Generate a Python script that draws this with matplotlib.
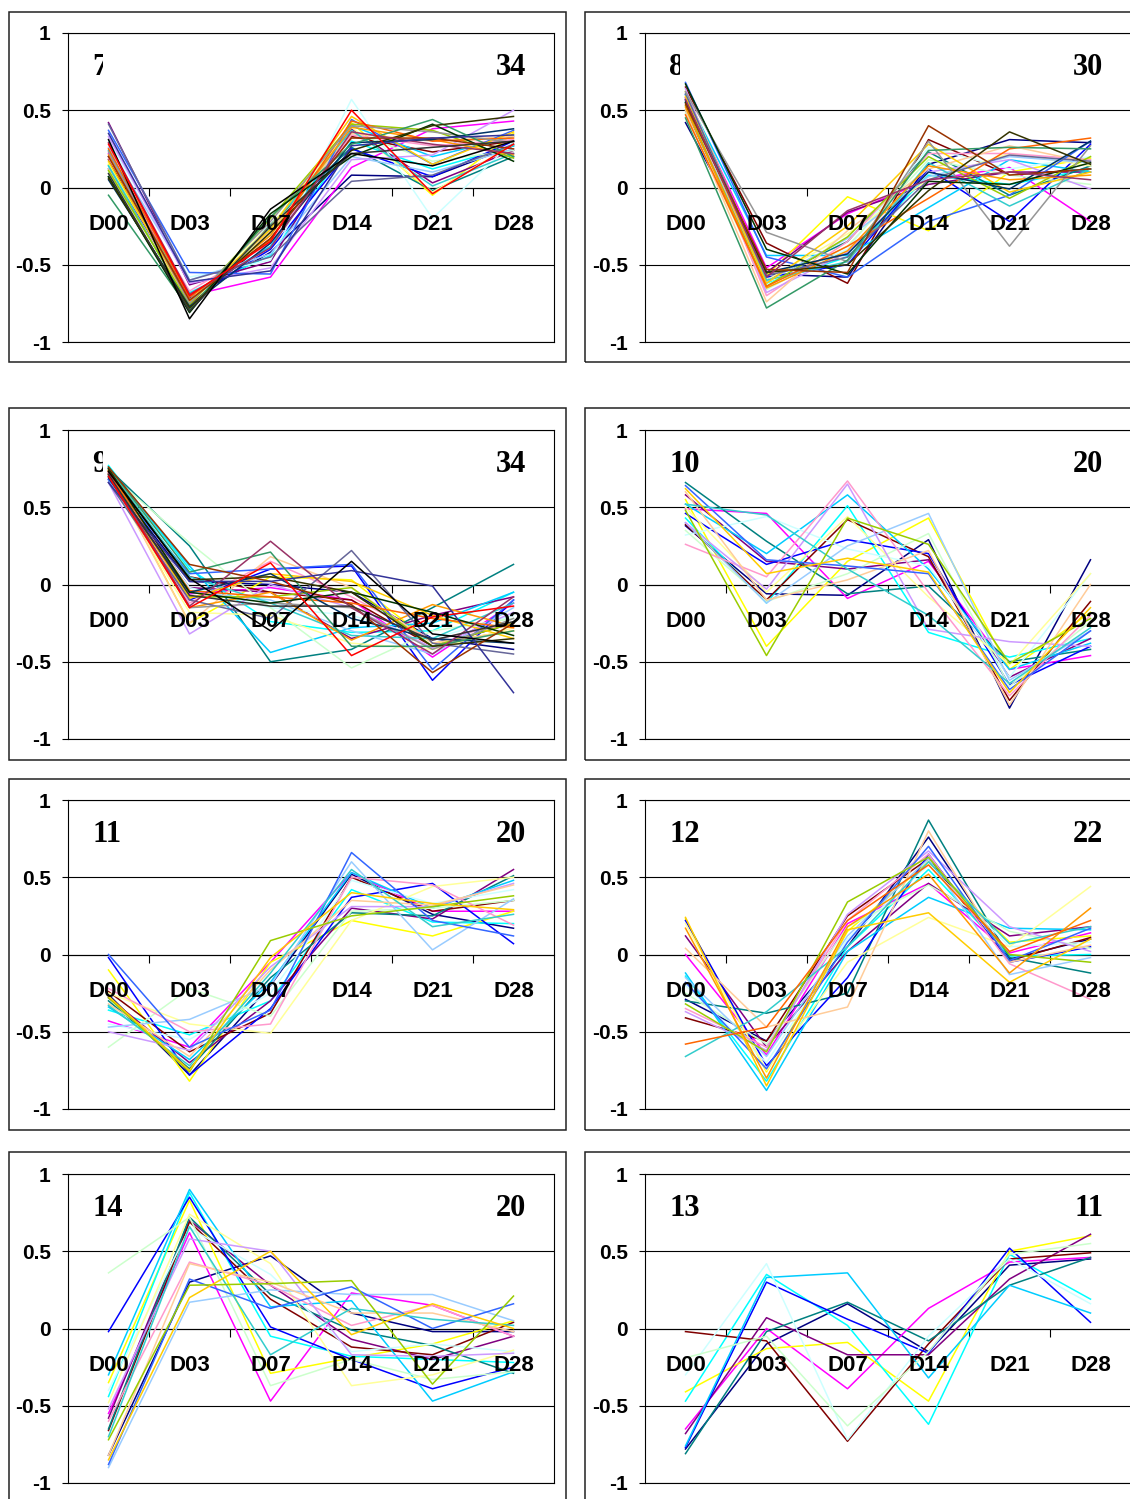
import matplotlib
matplotlib.use('Agg')
import matplotlib.pyplot as plt
from matplotlib.patches import Rectangle
from matplotlib.transforms import Bbox, TransformedBbox

days = ['D00', 'D03', 'D07', 'D14', 'D21', 'D28']

# Excel 2003 default series colours, in order
excel_colors = ['#000080', '#FF00FF', '#FFFF00', '#00FFFF', '#800080', '#800000', '#008080', '#0000FF',
                '#00CCFF', '#CCFFFF', '#CCFFCC', '#FFFF99', '#99CCFF', '#FF99CC', '#CC99FF', '#FFCC99',
                '#3366FF', '#33CCCC', '#99CC00', '#FFCC00', '#FF9900', '#FF6600', '#666699', '#969696',
                '#003366', '#339966', '#003300', '#333300', '#993300', '#993366', '#333399', '#333333',
                '#000000', '#FF0000']

cluster7 = [
    [0.20, -0.72, -0.42, 0.08, 0.07, 0.27], [0.22, -0.70, -0.58, 0.13, 0.38, 0.43],
    [0.15, -0.74, -0.30, 0.42, -0.05, 0.35], [0.14, -0.68, -0.44, 0.30, 0.12, 0.27],
    [0.42, -0.63, -0.48, 0.38, 0.03, 0.24], [0.18, -0.76, -0.33, 0.33, 0.23, 0.30],
    [0.07, -0.80, -0.24, 0.26, -0.02, 0.20], [0.12, -0.72, -0.40, 0.25, 0.07, 0.30],
    [0.24, -0.70, -0.38, 0.40, 0.20, 0.33], [0.30, -0.58, -0.47, 0.57, -0.20, 0.30],
    [0.10, -0.75, -0.30, 0.36, 0.17, 0.24], [0.16, -0.73, -0.25, 0.39, -0.03, 0.28],
    [0.26, -0.60, -0.43, 0.20, 0.10, 0.25], [0.19, -0.67, -0.36, 0.34, 0.27, 0.31],
    [0.33, -0.62, -0.52, 0.18, 0.21, 0.50], [0.12, -0.74, -0.28, 0.35, 0.30, 0.33],
    [0.37, -0.55, -0.56, 0.44, 0.15, 0.37], [0.14, -0.78, -0.26, 0.37, 0.01, 0.22],
    [0.11, -0.76, -0.20, 0.41, 0.37, 0.19], [0.17, -0.74, -0.27, 0.46, 0.15, 0.36],
    [0.21, -0.73, -0.31, 0.39, 0.31, 0.21], [0.25, -0.71, -0.34, 0.43, 0.30, 0.32],
    [0.41, -0.60, -0.45, 0.04, 0.08, 0.28], [0.23, -0.75, -0.22, 0.40, 0.36, 0.29],
    [0.05, -0.77, -0.36, 0.29, 0.31, 0.38], [-0.05, -0.79, -0.19, 0.28, 0.44, 0.20],
    [0.07, -0.81, -0.17, 0.20, 0.41, 0.17], [0.06, -0.78, -0.29, 0.24, 0.40, 0.46],
    [0.20, -0.73, -0.33, 0.32, 0.32, 0.25], [0.29, -0.69, -0.39, 0.36, 0.28, 0.22],
    [0.35, -0.61, -0.54, 0.27, 0.32, 0.34], [0.09, -0.80, -0.25, 0.22, 0.26, 0.30],
    [0.31, -0.85, -0.14, 0.22, 0.14, 0.30], [0.28, -0.70, -0.35, 0.50, -0.04, 0.28],
]

cluster8 = [
    [0.42, -0.56, -0.58, 0.15, 0.31, 0.29], [0.60, -0.52, -0.17, 0.05, 0.13, -0.22],
    [0.62, -0.57, -0.06, -0.28, 0.10, 0.19], [0.55, -0.62, -0.45, 0.08, 0.02, 0.12],
    [0.58, -0.55, -0.16, 0.02, 0.10, 0.10], [0.65, -0.36, -0.62, 0.31, 0.08, 0.12],
    [0.50, -0.60, -0.35, 0.23, -0.05, 0.14], [0.57, -0.58, -0.50, 0.12, -0.22, 0.28],
    [0.60, -0.44, -0.44, -0.13, 0.18, 0.10], [0.52, -0.63, -0.40, 0.26, 0.12, 0.20],
    [0.48, -0.66, -0.38, 0.18, 0.08, 0.02], [0.63, -0.60, -0.30, 0.05, 0.22, 0.14],
    [0.55, -0.61, -0.33, 0.07, 0.20, 0.16], [0.58, -0.70, -0.35, 0.22, 0.22, 0.18],
    [0.64, -0.68, -0.42, 0.10, 0.18, -0.01], [0.50, -0.74, -0.28, 0.12, 0.27, 0.16],
    [0.68, -0.45, -0.58, -0.22, -0.05, 0.30], [0.60, -0.60, -0.48, 0.16, -0.12, 0.12],
    [0.53, -0.64, -0.32, 0.20, -0.07, 0.20], [0.59, -0.62, -0.25, 0.28, -0.03, 0.10],
    [0.52, -0.65, -0.41, 0.14, 0.05, 0.08], [0.47, -0.64, -0.38, -0.07, 0.25, 0.32],
    [0.61, -0.57, -0.45, 0.05, 0.21, 0.17], [0.62, -0.29, -0.48, 0.30, -0.38, 0.27],
    [0.56, -0.55, -0.43, 0.10, -0.01, 0.30], [0.45, -0.78, -0.47, 0.24, 0.26, 0.25],
    [0.67, -0.40, -0.56, 0.04, 0.02, 0.16], [0.55, -0.55, -0.50, -0.02, 0.36, 0.15],
    [0.54, -0.53, -0.55, 0.40, 0.08, 0.12], [0.57, -0.58, -0.15, 0.05, 0.10, 0.05],
]

cluster9 = [
    [0.70, 0.02, 0.00, -0.05, -0.35, -0.42], [0.72, -0.06, -0.02, -0.10, -0.47, -0.12],
    [0.74, -0.25, 0.05, 0.03, -0.38, -0.30], [0.77, 0.10, -0.24, -0.31, -0.30, -0.05],
    [0.71, -0.02, -0.05, -0.35, -0.20, -0.08], [0.73, 0.05, -0.05, -0.10, -0.40, -0.25],
    [0.75, 0.25, -0.50, -0.42, -0.15, 0.13], [0.68, -0.10, 0.10, 0.12, -0.62, -0.10],
    [0.76, 0.12, -0.44, -0.28, -0.25, -0.05], [0.70, -0.02, -0.15, -0.20, -0.35, -0.20],
    [0.72, 0.27, -0.15, -0.54, -0.30, -0.22], [0.69, -0.18, -0.20, -0.38, -0.42, -0.28],
    [0.67, -0.05, -0.10, -0.30, -0.45, -0.15], [0.74, -0.12, 0.15, -0.08, -0.36, -0.25],
    [0.66, -0.32, 0.00, -0.15, -0.41, -0.18], [0.73, -0.25, 0.18, -0.02, -0.38, -0.30],
    [0.68, 0.07, 0.10, 0.13, -0.55, -0.10], [0.75, 0.05, -0.12, -0.33, -0.35, -0.12],
    [0.71, -0.08, -0.08, -0.02, -0.40, -0.25], [0.72, -0.09, 0.07, 0.02, -0.20, -0.35],
    [0.74, -0.15, -0.05, -0.36, -0.13, -0.27], [0.73, -0.04, -0.08, -0.12, -0.22, -0.28],
    [0.66, -0.10, -0.22, 0.22, -0.38, -0.45], [0.70, -0.15, -0.12, -0.15, -0.42, -0.22],
    [0.69, -0.05, 0.07, -0.22, -0.35, -0.38], [0.76, 0.08, 0.21, -0.40, -0.40, -0.30],
    [0.75, -0.05, -0.12, -0.05, -0.18, -0.33], [0.74, 0.03, 0.05, -0.05, -0.40, -0.35],
    [0.76, 0.13, 0.02, -0.13, -0.57, -0.25], [0.72, -0.14, 0.28, -0.15, -0.45, -0.08],
    [0.66, 0.02, 0.02, 0.09, -0.01, -0.70], [0.71, -0.07, -0.14, -0.14, -0.36, -0.24],
    [0.73, 0.04, -0.30, 0.15, -0.32, -0.38], [0.70, -0.15, 0.14, -0.46, -0.21, -0.14],
]

cluster10 = [
    [0.38, -0.06, -0.07, 0.29, -0.80, 0.16], [0.49, 0.46, -0.09, 0.15, -0.55, -0.46],
    [0.55, -0.40, 0.15, 0.43, -0.55, -0.18], [0.43, -0.12, 0.51, -0.31, -0.47, -0.35],
    [0.58, 0.15, 0.10, 0.16, -0.60, -0.35], [0.39, -0.10, 0.42, 0.18, -0.75, -0.11],
    [0.66, 0.28, -0.06, -0.01, -0.50, -0.42], [0.46, 0.13, 0.29, 0.20, -0.65, -0.40],
    [0.52, 0.20, 0.58, 0.10, -0.55, -0.38], [0.32, 0.44, 0.23, 0.12, -0.60, 0.07],
    [0.35, -0.11, 0.07, 0.33, -0.66, -0.24], [0.50, -0.05, 0.44, -0.08, -0.52, 0.07],
    [0.40, -0.12, 0.25, 0.46, -0.62, -0.30], [0.26, 0.05, 0.67, -0.05, -0.72, -0.20],
    [0.40, -0.03, 0.65, -0.29, -0.37, -0.40], [0.60, -0.10, 0.03, 0.22, -0.78, 0.00],
    [0.64, 0.16, 0.12, 0.07, -0.68, -0.30], [0.52, 0.45, 0.10, -0.20, -0.64, -0.28],
    [0.48, -0.46, 0.43, 0.26, -0.51, -0.22], [0.62, 0.07, 0.17, 0.08, -0.70, -0.15],
]

cluster11 = [
    [-0.26, -0.78, -0.20, 0.52, 0.26, 0.17], [-0.43, -0.60, -0.05, 0.53, 0.28, 0.28],
    [-0.10, -0.82, -0.05, 0.22, 0.12, 0.28], [-0.36, -0.52, -0.30, 0.42, 0.21, 0.20],
    [-0.28, -0.70, -0.30, 0.30, 0.23, 0.55], [-0.24, -0.63, -0.38, 0.50, 0.28, 0.35],
    [-0.30, -0.74, -0.15, 0.27, 0.25, 0.51], [-0.02, -0.78, -0.35, 0.37, 0.46, 0.07],
    [-0.34, -0.68, -0.18, 0.53, 0.30, 0.48], [-0.45, -0.55, -0.25, 0.48, 0.33, 0.42],
    [-0.60, -0.22, -0.40, 0.28, 0.30, 0.35], [-0.25, -0.45, -0.51, 0.22, 0.44, 0.50],
    [-0.47, -0.42, -0.20, 0.60, 0.03, 0.36], [-0.22, -0.50, -0.45, 0.50, 0.45, 0.19],
    [-0.50, -0.62, -0.08, 0.31, 0.31, 0.46], [-0.32, -0.66, -0.10, 0.35, 0.32, 0.45],
    [0.00, -0.60, -0.36, 0.66, 0.22, 0.12], [-0.33, -0.72, -0.12, 0.55, 0.18, 0.26],
    [-0.28, -0.76, 0.09, 0.25, 0.31, 0.38], [-0.27, -0.75, -0.02, 0.40, 0.33, 0.29],
]

cluster12 = [
    [-0.29, -0.56, 0.05, 0.76, -0.03, 0.10], [0.00, -0.65, 0.20, 0.46, 0.01, 0.14],
    [0.23, -0.76, 0.15, 0.60, 0.08, 0.12], [-0.14, -0.82, 0.05, 0.55, -0.01, 0.00],
    [0.12, -0.60, 0.02, 0.46, 0.12, 0.18], [-0.41, -0.56, 0.25, 0.62, -0.04, 0.11],
    [-0.30, -0.38, -0.25, 0.87, -0.02, -0.12], [0.22, -0.72, -0.15, 0.65, -0.05, 0.05],
    [-0.12, -0.88, 0.02, 0.37, 0.17, 0.16], [-0.20, -0.70, 0.10, 0.58, 0.05, 0.08],
    [-0.25, -0.58, 0.18, 0.45, 0.15, 0.04], [0.20, -0.75, -0.05, 0.24, 0.05, 0.44],
    [-0.15, -0.66, 0.12, 0.62, -0.13, -0.02], [-0.35, -0.60, 0.22, 0.65, -0.06, -0.29],
    [-0.37, -0.62, 0.26, 0.67, 0.18, 0.02], [0.04, -0.47, -0.34, 0.80, -0.05, 0.06],
    [-0.18, -0.74, 0.08, 0.70, -0.04, 0.17], [-0.66, -0.37, 0.05, 0.60, 0.07, 0.18],
    [-0.32, -0.63, 0.34, 0.63, 0.00, -0.05], [0.24, -0.85, 0.16, 0.27, -0.18, 0.10],
    [0.17, -0.80, 0.18, 0.52, -0.12, 0.30], [-0.58, -0.47, 0.22, 0.58, 0.02, 0.22],
]

cluster14 = [
    [-0.82, 0.30, 0.47, 0.10, -0.02, -0.02], [-0.55, 0.62, -0.47, 0.23, 0.15, -0.05],
    [-0.35, 0.83, -0.29, -0.19, -0.10, 0.05], [-0.44, 0.88, -0.05, -0.18, -0.20, -0.22],
    [-0.58, 0.70, 0.28, -0.07, -0.20, -0.05], [-0.66, 0.69, 0.19, -0.12, -0.17, 0.04],
    [-0.65, 0.72, 0.22, -0.01, -0.11, -0.29], [-0.02, 0.85, 0.01, -0.20, -0.39, -0.25],
    [-0.30, 0.90, 0.14, 0.18, -0.47, -0.28], [-0.40, 0.65, 0.35, -0.15, -0.10, -0.15],
    [0.36, 0.72, -0.37, -0.20, -0.33, -0.28], [-0.48, 0.74, 0.42, -0.37, -0.30, -0.14],
    [-0.90, 0.17, 0.25, 0.22, 0.22, 0.05], [-0.60, 0.43, 0.28, 0.02, 0.15, -0.05],
    [-0.52, 0.58, 0.50, -0.17, -0.18, -0.16], [-0.82, 0.42, 0.30, 0.10, 0.10, -0.02],
    [-0.88, 0.32, 0.13, 0.27, 0.00, 0.16], [-0.70, 0.66, -0.17, 0.13, 0.06, 0.02],
    [-0.72, 0.28, 0.29, 0.31, -0.36, 0.21], [-0.85, 0.20, 0.50, -0.04, 0.16, 0.00],
]

cluster13 = [
    [-0.78, -0.10, 0.16, -0.15, 0.41, 0.45], [-0.65, 0.00, -0.39, 0.13, 0.43, 0.46],
    [-0.41, -0.13, -0.09, -0.47, 0.50, 0.60], [-0.47, 0.35, 0.02, -0.62, 0.48, 0.19],
    [-0.68, 0.07, -0.17, -0.17, 0.32, 0.61], [-0.02, -0.08, -0.73, -0.10, 0.45, 0.49],
    [-0.81, -0.02, 0.17, -0.08, 0.28, 0.46], [-0.77, 0.30, 0.06, -0.16, 0.52, 0.04],
    [-0.76, 0.33, 0.36, -0.32, 0.28, 0.10], [-0.30, 0.42, -0.72, -0.05, 0.45, 0.16],
    [-0.19, -0.05, -0.63, -0.15, 0.48, 0.55],
]

# (lines, cluster id, gene count, column, row)
panels = [
    (cluster7, '7', 34, 0, 0), (cluster8, '8', 30, 1, 0),
    (cluster9, '9', 34, 0, 1), (cluster10, '10', 20, 1, 1),
    (cluster11, '11', 20, 0, 2), (cluster12, '12', 22, 1, 2),
    (cluster14, '14', 20, 0, 3), (cluster13, '13', 11, 1, 3),
]

W, H = 1130, 1499
fig = plt.figure(figsize=(W / 100, H / 100), dpi=100)

plot_x = [(68, 554), (645, 1131)]
plot_y = [(33, 342), (430, 739), (800, 1109), (1174, 1483)]
box_x = [(9, 566), (585, 1145)]
box_y = [(12, 362), (408, 760), (779, 1130), (1152, 1515)]

sans = 'Liberation Sans'
serif = 'Liberation Serif'

for lines, cid, count, col, row in panels:
    bx0, bx1 = box_x[col]
    by0, by1 = box_y[row]
    fig.add_artist(Rectangle((bx0 / W, 1 - by1 / H), (bx1 - bx0) / W, (by1 - by0) / H,
                             transform=fig.transFigure, fill=False, edgecolor='#222222', lw=1.1))

    x0, x1 = plot_x[col]
    y0, y1 = plot_y[row]
    ax = fig.add_axes([x0 / W, 1 - y1 / H, (x1 - x0) / W, (y1 - y0) / H])
    ax.set_facecolor('white')

    for i, vals in enumerate(lines):
        ax.plot(range(len(days)), vals, color=excel_colors[i % len(excel_colors)], lw=1.1)

    ax.set_xlim(-0.5, 5.5)
    ax.set_ylim(-1, 1)
    ax.set_xticks([])
    ax.set_yticks([-1, -0.5, 0, 0.5, 1])
    ax.set_yticklabels(['-1', '-0.5', '0', '0.5', '1'], fontsize=15, fontweight='bold', family=sans)
    ax.tick_params(axis='y', length=4.5, width=0.8, pad=8)
    ax.yaxis.grid(True, color='black', lw=0.8)
    ax.set_axisbelow(True)
    for s in ax.spines.values():
        s.set_linewidth(0.8)
        s.set_color('black')

    # category axis crosses at zero, ticks between categories pointing down
    sec = ax.secondary_xaxis(0.5)
    sec.set_alignment('bottom')
    sec.set_xticks([0.5, 1.5, 2.5, 3.5, 4.5])
    sec.set_xticklabels([''] * 5)
    sec.tick_params(axis='x', direction='out', length=6, width=0.8)
    sec.spines['bottom'].set_linewidth(0.8)

    for i, d in enumerate(days):
        ax.text(i, -0.274, d, ha='center', va='baseline', fontsize=16, fontweight='bold', family=sans)

    t = ax.text(-0.2, 0.725, cid, ha='left', va='baseline', fontsize=22, fontweight='bold', family=serif)
    if len(cid) == 1:
        # the single-digit ids are cut off in the original
        t.set_clip_on(True)
        t.set_clip_path(None)
        t.set_clip_box(TransformedBbox(Bbox([[-0.5, -1], [-0.07, 1]]), ax.transData))
    ax.text(5.16, 0.725, str(count), ha='right', va='baseline', fontsize=22, fontweight='bold', family=serif)

plt.savefig('out.png', dpi=100)
